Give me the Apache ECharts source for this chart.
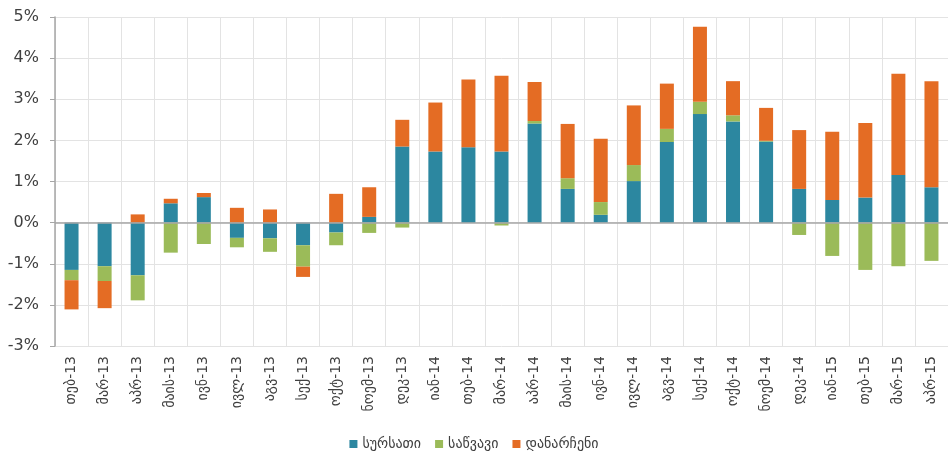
<!DOCTYPE html>
<html>
<head>
<meta charset="UTF-8">
<title>contributions</title>
<script type="text/javascript" src="https://cdn.jsdelivr.net/npm/echarts@6/dist/echarts.min.js"></script>
<style>
body{margin:0;background:#fff;}
</style>
</head>
<body>
<div id="box" style="width:948px;height:460px;"></div>

<script type="text/javascript">
// months
var months=['თებ-13','მარ-13','აპრ-13','მაის-13','ივნ-13','ივლ-13','აგვ-13','სექ-13','ოქტ-13','ნოემ-13','დეკ-13',
  'იან-14','თებ-14','მარ-14','აპრ-14','მაის-14','ივნ-14','ივლ-14','აგვ-14','სექ-14','ოქტ-14','ნოემ-14','დეკ-14',
  'იან-15','თებ-15','მარ-15','აპრ-15'];
// contributions, %
var food=[-1.15,-1.06,-1.28,0.47,0.62,-0.37,-0.38,-0.55,-0.24,0.14,1.85,
  1.73,1.83,1.73,2.41,0.82,0.19,1.01,1.96,2.64,2.46,1.97,0.82,
  0.55,0.61,1.16,0.86];
var fuel=[-0.25,-0.36,-0.61,-0.73,-0.52,-0.23,-0.33,-0.52,-0.31,-0.25,-0.12,
  0,0,-0.07,0.06,0.26,0.31,0.39,0.32,0.30,0.15,0.02,-0.30,
  -0.81,-1.15,-1.06,-0.93];
var other=[-0.71,-0.66,0.20,0.11,0.10,0.36,0.32,-0.25,0.70,0.72,0.65,
  1.19,1.65,1.84,0.95,1.32,1.54,1.45,1.10,1.82,0.83,0.80,1.43,
  1.66,1.81,2.46,2.58];
var yTicks={min:-3,max:5,step:1};

var font='"DejaVu Sans", sans-serif';
var mychart=echarts.init(document.getElementById('box'));

mychart.setOption({
  animation:false,
  color:['#2C87A0','#9BBB59','#E46C24'],
  grid:{left:55,right:-8,top:17,bottom:114},
  legend:{
    bottom:4,
    left:'center',
    icon:'rect',
    itemWidth:8,
    itemHeight:8,
    itemGap:14,
    textStyle:{fontFamily:font,fontSize:14,color:'#404040'},
    data:['სურსათი','საწვავი','დანარჩენი']
  },
  xAxis:{
    type:'category',
    data:months,
    axisLine:{onZero:false,show:false},
    axisTick:{show:false},
    splitLine:{show:true,lineStyle:{color:'#e3e3e3',width:1}},
    axisLabel:{rotate:90,margin:10,fontFamily:font,fontSize:14,color:'#404040'}
  },
  yAxis:{
    type:'value',
    min:yTicks.min,
    max:yTicks.max,
    interval:yTicks.step,
    axisLine:{show:true,lineStyle:{color:'#a6a6a6',width:1.5}},
    axisTick:{show:true,length:5,lineStyle:{color:'#a6a6a6'}},
    splitLine:{lineStyle:{color:'#e3e3e3',width:1}},
    axisLabel:{formatter:'{value}%',margin:16,fontFamily:font,fontSize:16,color:'#404040'}
  },
  series:[{
    name:'სურსათი',
    type:'bar',
    stack:'all',
    barWidth:14,
    data:food,
    markLine:{
      silent:true,
      symbol:'none',
      label:{show:false},
      lineStyle:{color:'#a6a6a6',type:'solid',width:1.5},
      data:[{yAxis:0}]
    }
  },{
    name:'საწვავი',
    type:'bar',
    stack:'all',
    barWidth:14,
    data:fuel
  },{
    name:'დანარჩენი',
    type:'bar',
    stack:'all',
    barWidth:14,
    data:other
  }]
});
</script>
</body>
</html>
